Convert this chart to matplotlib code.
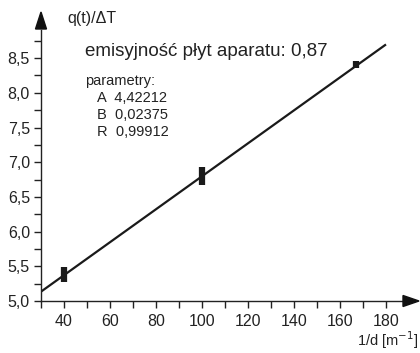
import matplotlib.pyplot as plt
from matplotlib.patches import Polygon
from matplotlib.ticker import MultipleLocator, FuncFormatter

plt.rcParams['font.family'] = ['Liberation Sans', 'DejaVu Sans']

# measured points (1/d, lower and upper end of the bar)
x_pts = [40, 100, 167]
y_low = [5.27, 6.67, 8.36]
y_high = [5.49, 6.93, 8.46]

# fit parameters
A = 4.42212
B = 0.02375
R = 0.99912
fit_x = [30, 180]
fit_y = [A + B * v for v in fit_x]

W, H = 420, 353
fig = plt.figure(figsize=(4.2, 3.53), dpi=100)
ax = fig.add_axes([41 / W, 52 / H, 362 / W, 271 / H])

ax.plot(fit_x, fit_y, color='#1a1a1a', lw=1.6, solid_capstyle='butt')
ax.vlines(x_pts, y_low, y_high, color='#1a1a1a', lw=4.5)

# 30 -> px 41, 2.3 px per unit
ax.set_xlim(30, 30 + 362 / 2.3)
# 5.0 -> px 301, 69.4 px per unit
ax.set_ylim(5.0, 5.0 + 271 / 69.4)

for s in ['top', 'right']:
    ax.spines[s].set_visible(False)
for s in ['left', 'bottom']:
    ax.spines[s].set_color('#222222')
    ax.spines[s].set_linewidth(1.0)

ax.set_xticks(range(40, 181, 20))
ax.xaxis.set_minor_locator(MultipleLocator(10))
ax.set_yticks([5.0, 5.5, 6.0, 6.5, 7.0, 7.5, 8.0, 8.5])
ax.yaxis.set_minor_locator(MultipleLocator(0.25))
ax.yaxis.set_major_formatter(FuncFormatter(lambda v, p: ('%.1f' % v).replace('.', ',')))
ax.tick_params(which='both', direction='out', length=5, width=1, color='#222222',
               labelsize=11.5, labelcolor='#222222')
ax.tick_params(axis='x', pad=4)
ax.tick_params(axis='y', pad=3)

# arrow heads (figure pixels)
def px(x, y):
    return (x / W, 1 - y / H)

fig.patches.append(Polygon([px(35.5, 29), px(46.5, 29), px(41, 12)], closed=True,
                           color='#111111', transform=fig.transFigure))
fig.patches.append(Polygon([px(403, 295.5), px(403, 306.5), px(419, 301)], closed=True,
                           color='#111111', transform=fig.transFigure))

fig.text(67 / W, 1 - 18 / H, 'q(t)/\u0394T', fontsize=11.5, va='center', color='#222222')
fig.text(418 / W, 1 - 340 / H, '1/d [m$^{-1}$]', fontsize=10.5, va='center',
         ha='right', color='#222222')

fig.text(85 / W, 1 - 51 / H, 'emisyjno\u015b\u0107 p\u0142yt aparatu: 0,87', fontsize=13.5,
         va='center', color='#222222')
fig.text(85 / W, 1 - 81 / H, 'parametry:', fontsize=10.5, va='center', color='#222222')
fig.text(97 / W, 1 - 98 / H, 'A  4,42212', fontsize=10.5, va='center', color='#222222')
fig.text(97 / W, 1 - 115 / H, 'B  0,02375', fontsize=10.5, va='center', color='#222222')
fig.text(97 / W, 1 - 132 / H, 'R  0,99912', fontsize=10.5, va='center', color='#222222')

fig.savefig('out.png', dpi=100)
